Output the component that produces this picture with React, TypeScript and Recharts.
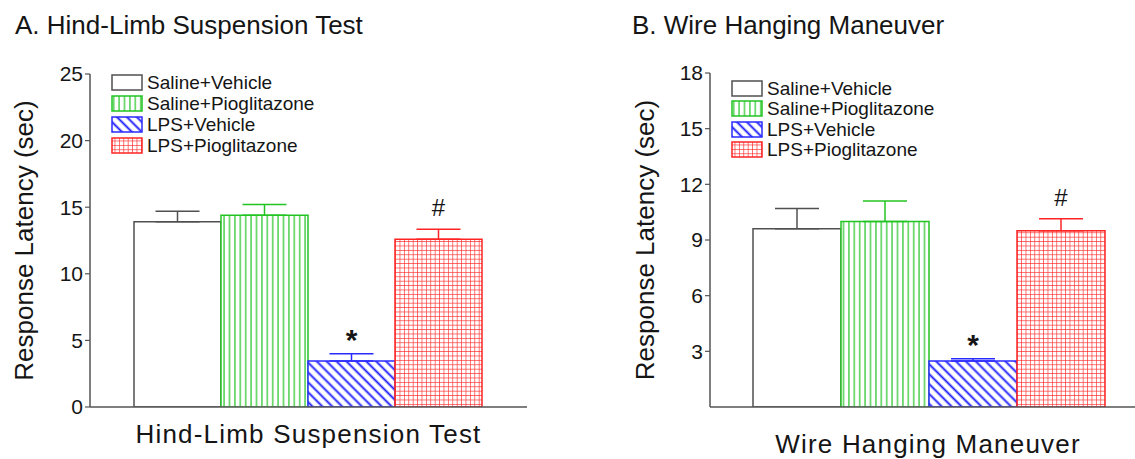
import React from "react";
import { BarChart, Bar, XAxis, YAxis, ErrorBar, LabelList, Legend } from "recharts";

const groups = ["Saline+Vehicle", "Saline+Pioglitazone", "LPS+Vehicle", "LPS+Pioglitazone"];
const marks = ["", "", "*", "#"];

const hindLimbName = "Hind-Limb Suspension Test";
const hindLimbMean = [13.9, 14.4, 3.45, 12.6];
const hindLimbSem = [0.8, 0.8, 0.55, 0.75];
const hindLimbTicks = [0, 5, 10, 15, 20, 25];

const wireName = "Wire Hanging Maneuver";
const wireMean = [9.6, 10.0, 2.48, 9.5];
const wireSem = [1.1, 1.1, 0.12, 0.65];
const wireTicks = [3, 6, 9, 12, 15, 18];

const FONT = "'Liberation Sans', Arial, sans-serif";
const AXIS = "#555";
const TEXT = "#151515";

const looks = [
  { stroke: "#505050", fill: "none" },
  { stroke: "#22c422", fill: "vert" },
  { stroke: "#2b2bff", fill: "diag" },
  { stroke: "#ff2424", fill: "grid" },
];

const fillFor = (prefix: string, i: number) =>
  looks[i].fill === "none" ? "#fff" : `url(#${prefix}-${looks[i].fill})`;

function Patterns({ prefix }: { prefix: string }) {
  return (
    <defs>
      <pattern id={`${prefix}-vert`} patternUnits="userSpaceOnUse" width={5.4} height={10}>
        <rect width={5.4} height={10} fill="#fff" />
        <line x1={2.7} y1={0} x2={2.7} y2={10} stroke="#4fd04f" strokeWidth={1.5} />
      </pattern>
      <pattern id={`${prefix}-diag`} patternUnits="userSpaceOnUse" width={7} height={10} patternTransform="rotate(-45)">
        <rect width={7} height={10} fill="#fff" />
        <line x1={3.5} y1={0} x2={3.5} y2={10} stroke="#1e1eff" strokeWidth={1.9} />
      </pattern>
      <pattern id={`${prefix}-grid`} patternUnits="userSpaceOnUse" width={4.4} height={4.4}>
        <rect width={4.4} height={4.4} fill="#fff" />
        <path d="M4.4 0 V4.4 M0 4.4 H4.4" stroke="#ff2a2a" strokeWidth={1.3} />
      </pattern>
    </defs>
  );
}

function buildRow(name: string, means: number[], sems: number[]) {
  const row: any = { name };
  means.forEach((m, i) => {
    row[`g${i}`] = m;
    row[`e${i}`] = [0, sems[i]];
  });
  return [row];
}

const markLabel = (mark: string, sem: number) => (props: any) => {
  const { x, y, width, height, value } = props;
  if (!mark || !value) return null;
  const errTop = y - (sem * height) / value;
  const star = mark === "*";
  return (
    <text
      x={x + width / 2}
      y={star ? errTop - 4 : errTop - 13}
      textAnchor="middle"
      fontSize={star ? 30 : 24}
      fontWeight={star ? "bold" : "normal"}
      fill={TEXT}
      fontFamily={FONT}
    >
      {mark}
    </text>
  );
};

const legendContent = (prefix: string, rowH: number) => () => (
  <div style={{ fontFamily: FONT }}>
    {groups.map((g, i) => (
      <div key={g} style={{ display: "flex", alignItems: "center", height: rowH }}>
        <svg width={32} height={17} style={{ display: "block" }}>
          <rect x={1} y={1} width={30} height={15} fill={fillFor(prefix, i)} stroke={looks[i].stroke} strokeWidth={1.5} />
        </svg>
        <span style={{ fontSize: 19, marginLeft: 4, color: TEXT, lineHeight: 1 }}>{g}</span>
      </div>
    ))}
  </div>
);

interface PanelProps {
  prefix: string;
  name: string;
  means: number[];
  sems: number[];
  ticks: number[];
  max: number;
  width: number;
  axisWidth: number;
  top: number;
  right: number;
  gap: number;
  labelX: number;
  tickDrop: number;
  legendPos: { left: number; top: number };
  legendRow: number;
}

function Panel(p: PanelProps) {
  const data = buildRow(p.name, p.means, p.sems);
  const CategoryTick = ({ x, y, payload }: any) => (
    <text x={x} y={y + p.tickDrop} textAnchor="middle" fontSize={26} letterSpacing={1.2} fill={TEXT} fontFamily={FONT}>
      {payload.value}
    </text>
  );
  return (
    <BarChart
      width={p.width}
      height={459}
      data={data}
      margin={{ top: p.top, right: p.right, bottom: 0, left: 0 }}
      barCategoryGap={p.gap}
      barGap={0}
    >
      <Patterns prefix={p.prefix} />
      <XAxis
        dataKey="name"
        height={52}
        tickLine={false}
        tickSize={0}
        tickMargin={0}
        axisLine={{ stroke: AXIS, strokeWidth: 1.5 }}
        tick={<CategoryTick />}
      />
      <YAxis
        width={p.axisWidth}
        domain={[0, p.max]}
        ticks={p.ticks}
        interval={0}
        allowDataOverflow
        tickSize={5}
        tickMargin={2}
        axisLine={{ stroke: AXIS, strokeWidth: 1.5 }}
        tickLine={{ stroke: AXIS, strokeWidth: 1.2 }}
        tick={{ fontSize: 21, fill: TEXT, fontFamily: FONT }}
        label={{
          value: "Response Latency (sec)",
          angle: -90,
          position: "insideLeft",
          offset: p.labelX,
          style: { textAnchor: "middle", fontSize: 26, fill: TEXT, fontFamily: FONT },
        }}
      />
      <Legend
        layout="horizontal"
        verticalAlign="middle"
        align="center"
        content={legendContent(p.prefix, p.legendRow)}
        wrapperStyle={{ left: p.legendPos.left, top: p.legendPos.top, width: "auto", height: "auto" }}
      />
      {groups.map((g, i) => (
        <Bar
          key={g}
          dataKey={`g${i}`}
          name={g}
          fill={fillFor(p.prefix, i)}
          stroke={looks[i].stroke}
          strokeWidth={1.5}
          isAnimationActive={false}
        >
          <ErrorBar dataKey={`e${i}`} width={22} stroke={looks[i].stroke} strokeWidth={1.5} direction="y" />
          <LabelList dataKey={`g${i}`} content={markLabel(marks[i], p.sems[i])} />
        </Bar>
      ))}
    </BarChart>
  );
}

const titleStyle: React.CSSProperties = {
  position: "absolute",
  top: 12,
  fontSize: 26,
  lineHeight: "26px",
  color: TEXT,
  whiteSpace: "nowrap",
};

export default function App() {
  return (
    <div
      style={{
        position: "absolute",
        left: 0,
        top: 0,
        width: 1135,
        height: 459,
        overflow: "hidden",
        background: "#fff",
        fontFamily: FONT,
      }}
    >
      <div style={{ ...titleStyle, left: 15 }}>A. Hind-Limb Suspension Test</div>
      <div style={{ ...titleStyle, left: 632 }}>B. Wire Hanging Maneuver</div>
      <div style={{ position: "absolute", left: 0, top: 0 }}>
        <Panel
          prefix="hl"
          name={hindLimbName}
          means={hindLimbMean}
          sems={hindLimbSem}
          ticks={hindLimbTicks}
          max={25}
          width={560}
          axisWidth={90}
          top={74}
          right={33}
          gap={44}
          labelX={24}
          tickDrop={36}
          legendPos={{ left: 111, top: 72 }}
          legendRow={21}
        />
      </div>
      <div style={{ position: "absolute", left: 560, top: 0 }}>
        <Panel
          prefix="wh"
          name={wireName}
          means={wireMean}
          sems={wireSem}
          ticks={wireTicks}
          max={18}
          width={600}
          axisWidth={150}
          top={73}
          right={14}
          gap={43}
          labelX={85}
          tickDrop={46}
          legendPos={{ left: 171, top: 78 }}
          legendRow={20.5}
        />
      </div>
    </div>
  );
}
